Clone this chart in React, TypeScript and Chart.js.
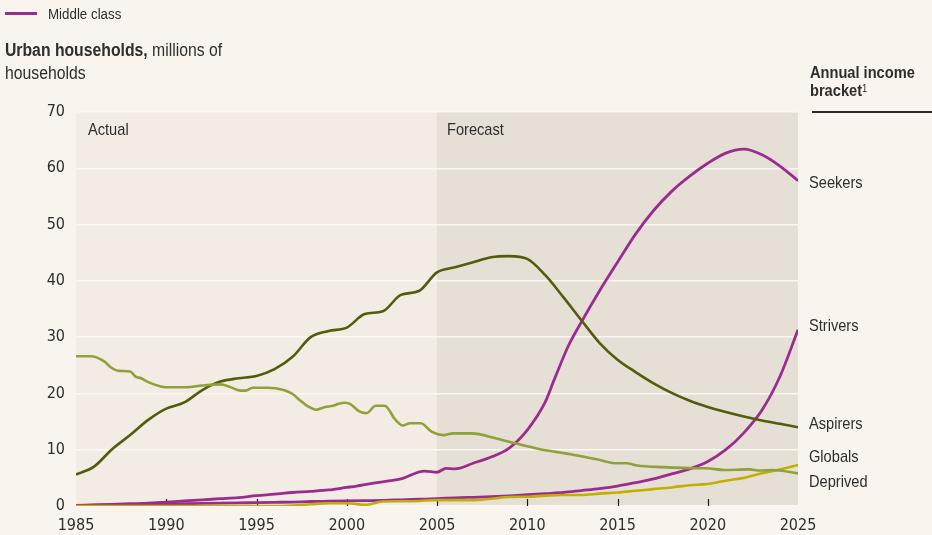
import React, { useEffect, useRef } from "react";
import { Chart, registerables } from "chart.js";

Chart.register(...registerables);

const TICK_FONT = '"DejaVu Sans Condensed", "Liberation Sans Narrow", sans-serif';
const FONT = '"Liberation Sans", Arial, sans-serif';

const xTicks = [1985, 1990, 1995, 2000, 2005, 2010, 2015, 2020, 2025];
const yTicks = [0, 10, 20, 30, 40, 50, 60, 70];
const forecastStart = 2005;

const annualYears = [
  1985, 1986, 1987, 1988, 1989, 1990, 1991, 1992, 1993, 1994, 1995, 1996, 1997, 1998, 1999, 2000,
  2001, 2002, 2003, 2004, 2005, 2006, 2007, 2008, 2009, 2010, 2011, 2012, 2013, 2014, 2015, 2016,
  2017, 2018, 2019, 2020, 2021, 2022, 2023, 2024, 2025,
];

const aspirersValues = [
  5.6, 7.0, 10.1, 12.6, 15.3, 17.3, 18.4, 20.6, 22.1, 22.7, 23.1, 24.3, 26.5, 30.0, 31.1, 31.7,
  34.1, 34.6, 37.5, 38.2, 41.5, 42.4, 43.3, 44.2, 44.4, 43.9, 41.0, 37.1, 33.0, 29.0, 26.0, 23.8,
  21.8, 20.1, 18.7, 17.6, 16.7, 15.9, 15.2, 14.6, 14.0,
];

const striversValues = [
  0.1, 0.15, 0.2, 0.25, 0.3, 0.35, 0.4, 0.45, 0.5, 0.55, 0.6, 0.65, 0.7, 0.8, 0.85, 0.9,
  0.95, 1.0, 1.1, 1.2, 1.3, 1.45, 1.55, 1.65, 1.8, 2.0, 2.2, 2.4, 2.75, 3.1, 3.55, 4.15,
  4.8, 5.7, 6.6, 7.9, 10.0, 13.0, 17.0, 23.0, 31.3,
];

const globalsValues = [
  0, 0, 0, 0, 0, 0, 0, 0, 0, 0, 0, 0, 0.1, 0.3, 0.5, 0.5,
  0.2, 0.8, 0.85, 0.9, 1.05, 1.05, 1.05, 1.3, 1.6, 1.65, 1.85, 1.95, 1.95, 2.2, 2.4, 2.7,
  3.0, 3.3, 3.7, 3.9, 4.5, 5.0, 5.8, 6.5, 7.3,
];

const seekersYears = [
  1985, 1986, 1987, 1988, 1989, 1990, 1991, 1992, 1993, 1994, 1995, 1996, 1997, 1998, 1999, 2000,
  2000.55, 2001, 2002, 2003, 2004.3, 2005, 2005.5, 2006, 2007, 2008, 2009, 2010, 2011, 2011.5,
  2012.3, 2013, 2014, 2015, 2016, 2017, 2018, 2019, 2020, 2021, 2022, 2023, 2024, 2025,
];
const seekersValues = [
  0.1, 0.2, 0.3, 0.4, 0.5, 0.7, 0.9, 1.1, 1.3, 1.5, 1.85, 2.1, 2.4, 2.6, 2.85, 3.3,
  3.55, 3.8, 4.3, 4.8, 6.2, 6.0, 6.7, 6.6, 7.6, 8.7, 10.3, 13.5, 18.5, 22.5,
  28.6, 32.7, 38.2, 43.3, 48.3, 52.5, 55.9, 58.6, 60.9, 62.7, 63.4, 62.4, 60.4, 57.8,
];

const deprivedYears = [
  1985, 1985.8, 1986.6, 1986.9, 1987.4, 1988, 1988.3, 1988.6, 1989, 1989.75, 1990.2, 1991.1,
  1992, 1993, 1993.5, 1994.1, 1994.4, 1994.8, 1995.6, 1996.5, 1997, 1997.4, 1997.8, 1998.3,
  1998.8, 1999.25, 1999.5, 1999.9, 2000.2, 2000.7, 2001.1, 2001.6, 2002.1, 2002.7, 2003.1,
  2003.5, 2004.1, 2004.7, 2005.35, 2005.9, 2006.9, 2008.3, 2009.2, 2010.7, 2012.4, 2013.85,
  2014.95, 2015.5, 2016.1, 2017.5, 2019.4, 2019.9, 2020.9, 2022.3, 2022.9, 2023.6, 2025,
];
const deprivedValues = [
  26.6, 26.6, 25.6, 24.7, 24.0, 23.9, 23.0, 22.7, 22.0, 21.2, 21.1, 21.1,
  21.4, 21.6, 21.2, 20.5, 20.5, 21.0, 21.0, 20.6, 19.9, 18.8, 17.8, 17.1,
  17.6, 17.8, 18.1, 18.35, 18.1, 16.8, 16.5, 17.8, 17.8, 15.3, 14.3,
  14.7, 14.7, 13.2, 12.6, 12.9, 12.9, 12.0, 11.25, 10.1, 9.2, 8.3,
  7.6, 7.6, 7.2, 6.9, 6.7, 6.7, 6.4, 6.5, 6.3, 6.4, 5.8,
];

const seriesNames = ["Seekers", "Strivers", "Aspirers", "Globals", "Deprived"];
const PURPLE = "#992d8f";
const DARK_OLIVE = "#525c0b";
const LIGHT_OLIVE = "#8ea13a";
const YELLOW = "#c1af02";

const toPoints = (xs: number[], ys: number[]) => xs.map((x, i) => ({ x, y: ys[i] }));

const bgPlugin = {
  id: "bgPlugin",
  beforeDraw(chart: any) {
    const { ctx, chartArea, scales } = chart;
    const xf = scales.x.getPixelForValue(forecastStart);
    ctx.save();
    ctx.fillStyle = "#f2ece5";
    ctx.fillRect(chartArea.left, chartArea.top, xf - chartArea.left, chartArea.bottom - chartArea.top);
    ctx.fillStyle = "#e6dfd6";
    ctx.fillRect(xf, chartArea.top, chartArea.right - xf, chartArea.bottom - chartArea.top);
    ctx.restore();
  },
  beforeDatasetsDraw(chart: any) {
    const { ctx, chartArea, scales } = chart;
    ctx.save();
    ctx.strokeStyle = "#1a1a1a";
    ctx.lineWidth = 1.2;
    for (const t of xTicks) {
      if (t === xTicks[0] || t === xTicks[xTicks.length - 1]) continue;
      const px = Math.round(scales.x.getPixelForValue(t)) + 0.5;
      ctx.beginPath();
      ctx.moveTo(px, chartArea.bottom);
      ctx.lineTo(px, chartArea.bottom - 7);
      ctx.stroke();
    }
    ctx.restore();
  },
};

function ChartView() {
  const ref = useRef<HTMLCanvasElement | null>(null);
  useEffect(() => {
    if (!ref.current) return;
    const mk = (label: string, pts: any[], color: string, w = 2.6) => ({
      label,
      data: pts,
      borderColor: color,
      backgroundColor: color,
      borderWidth: w,
      pointRadius: 0,
      cubicInterpolationMode: "monotone" as const,
      fill: false,
    });
    const chart = new Chart(ref.current, {
      type: "line",
      data: {
        datasets: [
          mk(seriesNames[4], toPoints(deprivedYears, deprivedValues), LIGHT_OLIVE),
          mk(seriesNames[3], toPoints(annualYears, globalsValues), YELLOW),
          mk(seriesNames[2], toPoints(annualYears, aspirersValues), DARK_OLIVE),
          mk(seriesNames[1], toPoints(annualYears, striversValues), PURPLE, 2.8),
          mk(seriesNames[0], toPoints(seekersYears, seekersValues), PURPLE, 2.8),
        ],
      },
      options: {
        animation: false,
        responsive: false,
        maintainAspectRatio: false,
        layout: { padding: { top: 112, right: 134, left: 0, bottom: 0 } },
        plugins: { legend: { display: false }, tooltip: { enabled: false } },
        scales: {
          x: {
            type: "linear",
            min: 1985,
            max: 2025,
            afterBuildTicks: (s: any) => {
              s.ticks = xTicks.map((v) => ({ value: v }));
            },
            afterFit: (s: any) => {
              s.height = 29;
            },
            grid: { display: false },
            border: { display: false },
            ticks: {
              color: "#2e2e2e",
              font: { family: TICK_FONT, size: 16 },
              padding: 2,
              maxRotation: 0,
              autoSkip: false,
              callback: (v: any) => String(v),
            },
          },
          y: {
            min: 0,
            max: 70,
            afterBuildTicks: (s: any) => {
              s.ticks = yTicks.map((v) => ({ value: v }));
            },
            afterFit: (s: any) => {
              s.width = 76;
            },
            grid: { color: "#fbf8f3", lineWidth: 1.5, drawTicks: false },
            border: { display: false },
            ticks: {
              color: "#2e2e2e",
              font: { family: TICK_FONT, size: 16 },
              padding: 11,
            },
          },
        },
      },
      plugins: [bgPlugin],
    });
    return () => chart.destroy();
  }, []);
  return <canvas ref={ref} width={932} height={535} style={{ position: "absolute", left: 0, top: 0 }} />;
}

const txt: React.CSSProperties = {
  position: "absolute",
  fontFamily: FONT,
  fontSize: 17,
  color: "#2e2e2e",
  whiteSpace: "nowrap",
  lineHeight: "23px",
  transform: "scaleX(0.86)",
  transformOrigin: "0 0",
};

const rightLabels = [
  { name: seriesNames[0], y: 183 },
  { name: seriesNames[1], y: 326 },
  { name: seriesNames[2], y: 424 },
  { name: seriesNames[3], y: 457 },
  { name: seriesNames[4], y: 482 },
];

export default function App() {
  return (
    <div
      style={{
        position: "fixed",
        left: 0,
        top: 0,
        width: 932,
        height: 535,
        background: "#f9f5ee",
        overflow: "hidden",
      }}
    >
      <ChartView />
      <div style={{ position: "absolute", left: 5, top: 12, width: 32, height: 3, background: PURPLE }} />
      <div style={{ ...txt, left: 48, top: 2, fontSize: 15.5 }}>Middle class</div>
      <div style={{ ...txt, left: 5, top: 39, fontSize: 18, transform: "scaleX(0.875)" }}>
        <span style={{ fontWeight: 700 }}>Urban households,</span> millions of
        <br />
        households
      </div>
      <div style={{ ...txt, left: 810, top: 64, fontWeight: 700, lineHeight: "18px" }}>
        Annual income
        <br />
        bracket
        <sup style={{ fontSize: 11, fontWeight: 400, verticalAlign: "top", lineHeight: "12px" }}>1</sup>
      </div>
      <div style={{ position: "absolute", left: 812, top: 111, width: 120, height: 2, background: "#2a2a2a" }} />
      <div style={{ ...txt, left: 88, top: 118 }}>Actual</div>
      <div style={{ ...txt, left: 447, top: 118 }}>Forecast</div>
      {rightLabels.map((l) => (
        <div key={l.name} style={{ ...txt, left: 809, top: l.y - 12 }}>
          {l.name}
        </div>
      ))}
    </div>
  );
}
